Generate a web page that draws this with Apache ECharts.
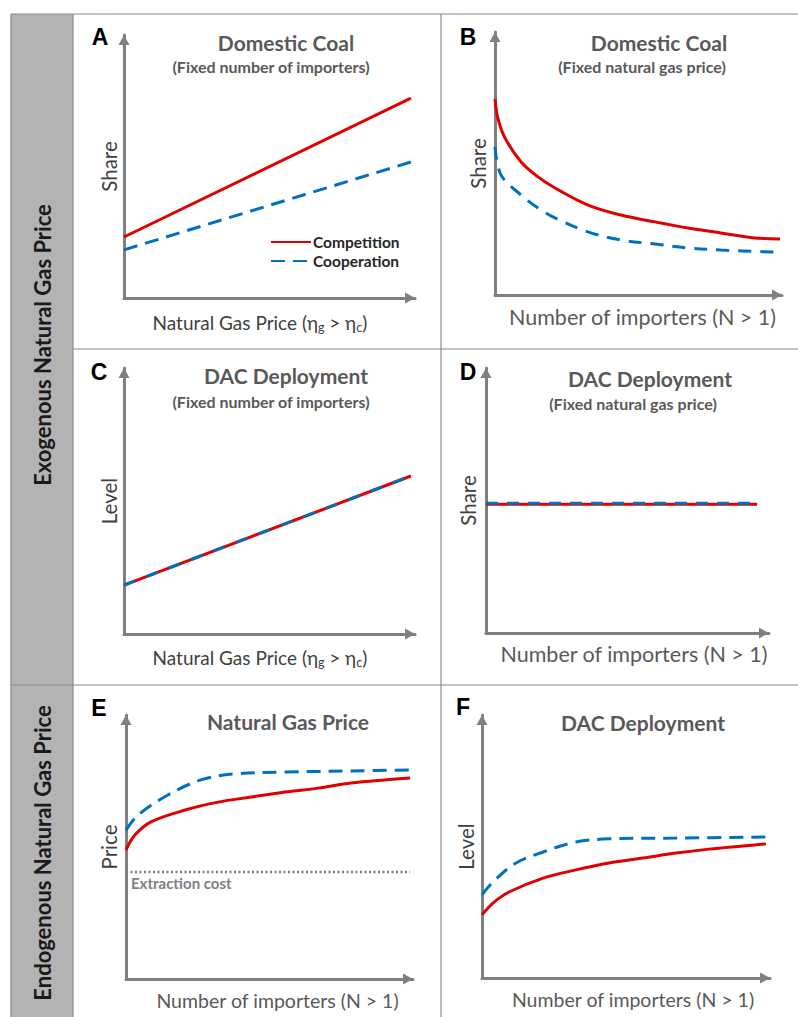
<!DOCTYPE html>
<html>
<head>
<meta charset="utf-8">
<script src="https://cdn.jsdelivr.net/npm/echarts@6/dist/echarts.min.js"></script>
<style>
html,body{margin:0;padding:0;background:#fff;}
#chart{width:798px;height:1017px;}
</style>
</head>
<body>
<div id="chart"></div>
<script>
// ---------------- DATA (abstract 0-100 units on both axes) ----------------
// Panel A: Domestic Coal vs natural gas price (fixed number of importers)
const aX = [0, 98.6];
const aCompetition = [23.2, 76.0];
const aCooperation = [18.3, 51.7];
// Panel B: Domestic Coal vs number of importers (fixed natural gas price)
const bXComp = [0, 1.0, 3.5, 9.1, 15.0, 20.9, 32.4, 43.9, 55.7, 67.2, 78.7, 90.6, 99.3];
const bCompetition = [74.5, 67.3, 59.7, 50.6, 44.9, 40.7, 34.2, 30.4, 27.8, 25.5, 23.6, 21.7, 21.3];
const bXCoop = [0, 2.1, 9.1, 15.0, 20.9, 32.4, 43.9, 55.7, 67.2, 78.7, 97.9];
const bCooperation = [56.3, 45.6, 38.0, 33.1, 29.3, 24.0, 20.9, 19.4, 17.9, 17.1, 16.3];
// Panel C: DAC deployment vs natural gas price
const cX = [0, 98.6];
const cCompetition = [18.4, 59.4];
const cCooperation = [18.4, 59.4];
// Panel D: DAC deployment vs number of importers
const dX = [0, 95.8];
const dCompetition = [48.6, 48.6];
const dCooperation = [49.0, 49.0];
// Panel E: Natural gas price (endogenous)
const eXComp = [0, 3.1, 8.7, 20.6, 32.1, 43.6, 55.4, 66.9, 78.4, 90.2, 99.0];
const eCompetition = [48.9, 54.5, 59.5, 64.0, 67.0, 68.9, 70.8, 72.3, 74.2, 75.4, 76.1];
const eXCoop = [0, 4.2, 14.6, 26.1, 38.0, 55.4, 78.4, 99.3];
const eCooperation = [56.4, 62.1, 69.7, 75.4, 77.7, 78.4, 78.8, 79.2];
const eExtractionX = [0, 99];
const eExtraction = [40.5, 40.5];
// Panel F: DAC deployment (endogenous)
const fXComp = [0, 3.8, 9.4, 21.2, 32.6, 44.1, 55.9, 67.4, 78.8, 90.6, 98.6];
const fCompetition = [24.0, 28.5, 32.7, 38.0, 41.1, 43.7, 45.6, 47.5, 49.0, 50.2, 51.0];
const fXCoop = [0, 3.8, 11.8, 21.2, 32.6, 44.1, 67.4, 98.6];
const fCooperation = [31.6, 36.5, 43.7, 47.9, 51.7, 52.9, 53.2, 53.6];

// Text
const seriesNames = ['Competition', 'Cooperation'];
const panelLetters = ['A', 'B', 'C', 'D', 'E', 'F'];
const panelTitles = ['Domestic Coal', 'Domestic Coal', 'DAC Deployment', 'DAC Deployment', 'Natural Gas Price', 'DAC Deployment'];
const panelSubtitles = ['(Fixed number of importers)', '(Fixed natural gas price)', '(Fixed number of importers)', '(Fixed natural gas price)', '', ''];
const yNames = ['Share', 'Share', 'Level', 'Share', 'Price', 'Level'];
const xNames = ['gas', 'importers', 'gas', 'importers', 'importers', 'importers'];
const rowLabels = ['Exogenous Natural Gas Price', 'Endogenous Natural Gas Price'];
const extractionLabel = 'Extraction cost';

// ---------------- LAYOUT ----------------
const FONT = 'Lato, "Open Sans", sans-serif';
const RED = '#e00000';
const BLUE = '#0070c0';
const AXIS = '#7f7f7f';
const grids = [
  {left: 124, top: 35, width: 291, height: 263},
  {left: 495, top: 32, width: 287, height: 263},
  {left: 124, top: 368, width: 291, height: 266},
  {left: 486, top: 368, width: 283, height: 265},
  {left: 126, top: 715, width: 287, height: 264},
  {left: 482, top: 715, width: 288, height: 263}
];
const xNameCfg = [
  {gap: 12, pad: [0, 19, 0, 0], size: 19},
  {gap: 11, pad: [0, 0, 0, 8], size: 21.5},
  {gap: 11, pad: [0, 19, 0, 0], size: 19},
  {gap: 10, pad: [0, 0, 0, 13], size: 21.5},
  {gap: 11, pad: [0, 0, 0, 16], size: 19.5},
  {gap: 11, pad: [0, 0, 0, 14], size: 19.5}
];
const yNameGap = [5, 7, 5, 8, 7, 6];
const titlePos = [[286, 42], [659, 42], [286, 375], [650, 378], [288, 721], [643, 722]];
const subPos = [[271, 66], [642, 66], [271, 401], [633, 403]];
const letterPos = [[100, 37], [468, 37], [99, 372], [468, 372], [99, 708], [463, 707]];

function xNameText(kind) {
  if (kind === 'gas') return '{n|Natural Gas Price (η}{s|g}{n| > η}{s|c}{n|)}';
  return 'Number of importers (N > 1)';
}

const xAxes = grids.map((g, i) => ({
  type: 'value', gridIndex: i, min: 0, max: 100,
  axisLine: {show: true, symbol: ['none', 'triangle'], symbolSize: [11, 10], symbolOffset: [0, -5],
    lineStyle: {color: AXIS, width: 3}},
  axisTick: {show: false}, axisLabel: {show: false}, splitLine: {show: false},
  name: xNameText(xNames[i]), nameLocation: 'middle', nameGap: xNameCfg[i].gap,
  nameTextStyle: {
    fontFamily: FONT, fontSize: xNameCfg[i].size, color: i % 2 === 1 || i >= 4 ? '#595959' : '#404040',
    padding: xNameCfg[i].pad,
    rich: {
      n: {fontFamily: FONT, fontSize: xNameCfg[i].size, color: '#404040', lineHeight: 24},
      s: {fontFamily: FONT, fontSize: 12.5, color: '#404040', lineHeight: 15, verticalAlign: 'bottom'}
    }
  }
}));
const yAxes = grids.map((g, i) => ({
  type: 'value', gridIndex: i, min: 0, max: 100,
  axisLine: {show: true, symbol: ['none', 'triangle'], symbolSize: [11, 10], symbolOffset: [0, -5],
    lineStyle: {color: AXIS, width: 3}},
  axisTick: {show: false}, axisLabel: {show: false}, splitLine: {show: false},
  name: yNames[i], nameLocation: 'middle', nameGap: yNameGap[i],
  nameTextStyle: {fontFamily: FONT, fontSize: 20.5, color: '#404040'}
}));

function pairs(xs, ys) { return xs.map((x, k) => [x, ys[k]]); }

function compSeries(gi, xs, ys, smooth) {
  return {type: 'line', name: seriesNames[0], xAxisIndex: gi, yAxisIndex: gi,
    data: pairs(xs, ys), symbol: 'none', smooth: smooth,
    lineStyle: {color: RED, width: 3}, itemStyle: {color: RED}, z: 3, silent: true};
}
function coopSeries(gi, xs, ys, smooth, dash) {
  return {type: 'line', name: seriesNames[1], xAxisIndex: gi, yAxisIndex: gi,
    data: pairs(xs, ys), symbol: 'none', smooth: smooth,
    lineStyle: {color: BLUE, width: 3, type: dash || [14, 8]}, itemStyle: {color: BLUE}, z: 4, silent: true};
}

const SM = 0.35;
const series = [
  compSeries(0, aX, aCompetition, false),
  coopSeries(0, aX, aCooperation, false),
  compSeries(1, bXComp, bCompetition, SM),
  coopSeries(1, bXCoop, bCooperation, SM, [13, 9]),
  compSeries(2, cX, cCompetition, false),
  coopSeries(2, cX, cCooperation, false, [12, 12]),
  compSeries(3, dX, dCompetition, false),
  coopSeries(3, dX, dCooperation, false, [12, 9]),
  compSeries(4, eXComp, eCompetition, SM),
  coopSeries(4, eXCoop, eCooperation, SM),
  compSeries(5, fXComp, fCompetition, SM),
  coopSeries(5, fXCoop, fCooperation, SM),
  {type: 'line', name: extractionLabel, xAxisIndex: 4, yAxisIndex: 4, silent: true,
    symbol: 'circle', symbolSize: 2, showSymbol: true, itemStyle: {color: 'rgba(0,0,0,0)'},
    data: pairs(eExtractionX, eExtraction).map((p, k) => k === 0 ? {value: p, label: {
      show: true, formatter: extractionLabel, position: 'bottom', align: 'left', distance: 2, offset: [5, 0],
      fontFamily: FONT, fontSize: 15, fontWeight: 'bold', color: '#7f7f7f'}} : p),
    lineStyle: {color: '#7f7f7f', width: 2.5, type: [2, 2.5]}, z: 2}
];

// frame graphics
const LINE = '#8a8a8a';
const graphics = [
  {type: 'rect', shape: {x: 11, y: 14, width: 62, height: 1010}, style: {fill: '#b3b3b3'}, silent: true},
  {type: 'line', shape: {x1: 11, y1: 14, x2: 798, y2: 14}, style: {stroke: LINE, lineWidth: 1.2}},
  {type: 'line', shape: {x1: 11, y1: 14, x2: 11, y2: 1017}, style: {stroke: LINE, lineWidth: 1.2}},
  {type: 'line', shape: {x1: 73, y1: 14, x2: 73, y2: 1017}, style: {stroke: LINE, lineWidth: 1.2}},
  {type: 'line', shape: {x1: 441, y1: 14, x2: 441, y2: 1017}, style: {stroke: LINE, lineWidth: 1.2}},
  {type: 'line', shape: {x1: 73, y1: 349, x2: 798, y2: 349}, style: {stroke: LINE, lineWidth: 1.2}},
  {type: 'line', shape: {x1: 11, y1: 685, x2: 798, y2: 685}, style: {stroke: LINE, lineWidth: 1.2}},
  {type: 'text', x: 42, y: 345, rotation: Math.PI / 2,
    style: {text: rowLabels[0], align: 'center', verticalAlign: 'middle', fontFamily: FONT, fontSize: 22, fontWeight: 'bold', fill: '#1a1a1a'}},
  {type: 'text', x: 42, y: 853, rotation: Math.PI / 2,
    style: {text: rowLabels[1], align: 'center', verticalAlign: 'middle', fontFamily: FONT, fontSize: 22, fontWeight: 'bold', fill: '#1a1a1a'}}
];
panelLetters.forEach((l, i) => graphics.push({type: 'text', x: letterPos[i][0], y: letterPos[i][1],
  style: {text: l, align: 'center', verticalAlign: 'middle', fontFamily: 'Liberation Sans, Arial, sans-serif', fontSize: 23, fontWeight: 'bold', fill: '#000'}}));
panelTitles.forEach((t, i) => graphics.push({type: 'text', x: titlePos[i][0], y: titlePos[i][1],
  style: {text: t, align: 'center', verticalAlign: 'middle', fontFamily: FONT, fontSize: 21, fontWeight: 'bold', fill: '#595959'}}));
panelSubtitles.forEach((t, i) => { if (t) graphics.push({type: 'text', x: subPos[i][0], y: subPos[i][1],
  style: {text: t, align: 'center', verticalAlign: 'middle', fontFamily: FONT, fontSize: 16, fontWeight: 'bold', fill: '#595959'}}); });

const chart = echarts.init(document.getElementById('chart'), null, {renderer: 'svg', width: 798, height: 1017});
chart.setOption({
  backgroundColor: '#fff',
  animation: false,
  grid: grids.map(g => Object.assign({containLabel: false}, g)),
  xAxis: xAxes,
  yAxis: yAxes,
  legend: {
    data: seriesNames, orient: 'vertical', left: 265, top: 229, itemWidth: 40, itemHeight: 20, itemGap: 3,
    itemStyle: {opacity: 0},
    textStyle: {fontFamily: FONT, fontSize: 15.5, fontWeight: 'bold', color: '#262626', padding: [0, 0, 0, -3]},
    selectedMode: false
  },
  series: series,
  graphic: graphics
});
</script>
</body>
</html>
